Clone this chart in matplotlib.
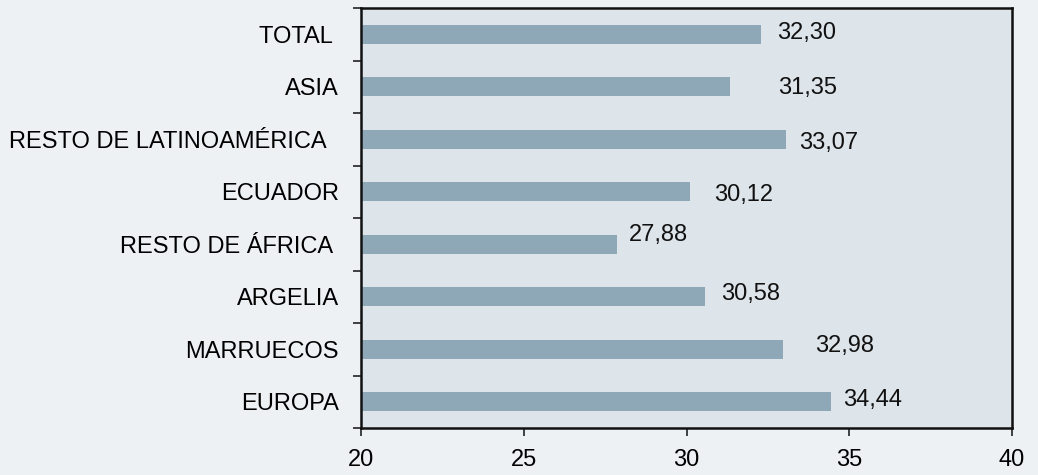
import matplotlib
matplotlib.use('Agg')
import matplotlib.pyplot as plt

# data, top to bottom as in the chart
categories = ['TOTAL ', 'ASIA', 'RESTO DE LATINOAMÉRICA  ', 'ECUADOR',
              'RESTO DE ÁFRICA ', 'ARGELIA', 'MARRUECOS', 'EUROPA']
values = [32.30, 31.35, 33.07, 30.12, 27.88, 30.58, 32.98, 34.44]
value_labels = ['32,30', '31,35', '33,07', '30,12', '27,88', '30,58', '32,98', '34,44']
x_ticks = [20, 25, 30, 35, 40]

# label offsets in points (dx, dy) - hand placed in the original
label_offsets = [(11, 1), (34, -1), (9, -3), (17, -2), (8, 7), (11, 2), (23, 2), (9, 1)]

plt.rcParams['font.family'] = ['Liberation Sans', 'DejaVu Sans']
fs = 17

fig = plt.figure(figsize=(10.38, 4.75), dpi=100)
fig.patch.set_facecolor('#edf1f4')
ax = fig.add_axes([361 / 1038, 1 - 428 / 475, 651 / 1038, 420 / 475])
ax.set_facecolor('#dde4ea')

n = len(categories)
ypos = [n - 1 - i for i in range(n)]
ax.barh(ypos, [v - 20 for v in values], left=20, height=0.36, color='#8fa8b8', zorder=2)

for y, v, lab, (dx, dy) in zip(ypos, values, value_labels, label_offsets):
    ax.annotate(lab, (v, y), xytext=(dx, dy), textcoords='offset points',
                ha='left', va='center', fontsize=fs, color='#111111')

ax.set_xlim(20, 40)
ax.set_ylim(-0.5, n - 0.5)
ax.set_xticks(x_ticks)
ax.set_xticklabels([str(t) for t in x_ticks], fontsize=fs)
ax.set_yticks(ypos)
ax.set_yticklabels(categories, fontsize=fs)
ax.set_yticks([i - 0.5 for i in range(n + 1)], minor=True)
ax.tick_params(axis='y', which='major', length=0, pad=16)
ax.tick_params(axis='y', which='minor', length=6, width=1.2, color='#222222')
ax.tick_params(axis='x', length=6, width=1.2, color='#222222', pad=9)

for s in ax.spines.values():
    s.set_color('#111111')
    s.set_linewidth(1.8)

fig.savefig('out.png', dpi=100, facecolor=fig.get_facecolor())
